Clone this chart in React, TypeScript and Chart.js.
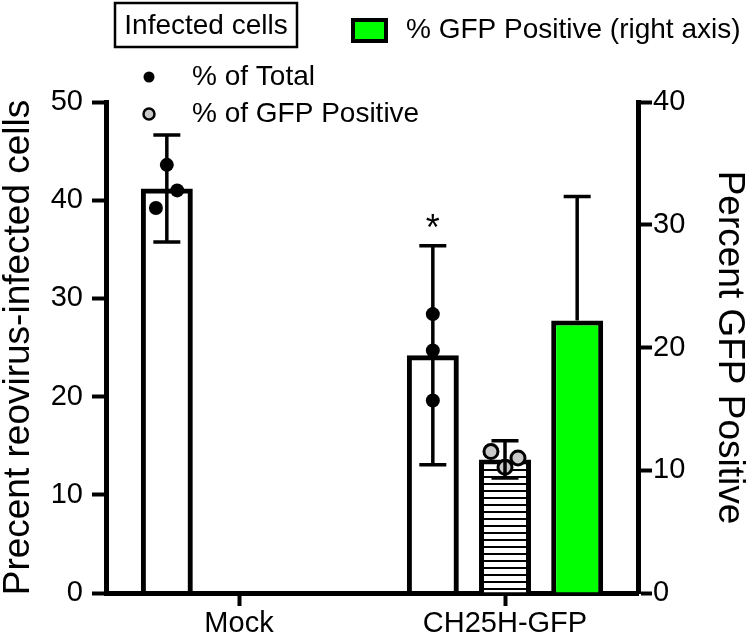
import React, { useEffect, useRef } from "react";
import { Chart, registerables } from "chart.js";
Chart.register(...registerables);

const FONT = "'Liberation Sans', Arial, Helvetica, sans-serif";

// ---- data ----
const categories = ["Mock", "CH25H-GFP"];
const leftTicks = [0, 10, 20, 30, 40, 50];
const rightTicks = [0, 10, 20, 30, 40];

const totalMeans = [41.2, 24.2];
const totalSD = [5.45, 11.15];
const totalPoints = [
  [43.6, 41.0, 39.2],
  [28.4, 24.7, 19.6],
];
const totalJitter = [
  [0, 0.2, -0.21],
  [0, 0, 0],
];

const gfpPosMeans = [null, 13.6];
const gfpPosSD = [null, 1.9];
const gfpPosPoints = [[], [14.4, 12.8, 13.75]];
const gfpPosJitter = [[], [-0.27, 0, 0.25]];

const gfpRightMeans = [null, 22.2];
const gfpRightSD = [null, 10.1];

const significance = [null, "*"];

function makeStripes(): CanvasPattern | string {
  const c = document.createElement("canvas");
  c.width = 8;
  c.height = 7;
  const g = c.getContext("2d");
  if (!g) return "#fff";
  g.fillStyle = "#fff";
  g.fillRect(0, 0, 8, 7);
  g.fillStyle = "#000";
  g.fillRect(0, 0, 8, 2);
  const p = g.createPattern(c, "repeat");
  return p || "#fff";
}

const overlay = {
  id: "overlay",
  afterDatasetsDraw(chart: any) {
    const ctx = chart.ctx as CanvasRenderingContext2D;
    ctx.save();
    const series = [
      { ds: 0, means: totalMeans, sds: totalSD, pts: totalPoints, jit: totalJitter, both: true, fill: "#000", r: 7, stroke: false },
      { ds: 1, means: gfpPosMeans, sds: gfpPosSD, pts: gfpPosPoints, jit: gfpPosJitter, both: true, fill: "#c8c8c8", r: 7, stroke: true },
      { ds: 2, means: gfpRightMeans, sds: gfpRightSD, pts: [[], []], jit: [[], []], both: false, fill: "#000", r: 7, stroke: false },
    ];
    for (const s of series) {
      const meta = chart.getDatasetMeta(s.ds);
      const yScale = chart.scales[meta.yAxisID];
      s.means.forEach((m: number | null, i: number) => {
        if (m == null) return;
        const el = meta.data[i];
        const x = el.x;
        const w = el.width;
        // points
        (s.pts[i] || []).forEach((v: number, k: number) => {
          const px = x + (s.jit[i][k] || 0) * w;
          const py = yScale.getPixelForValue(v);
          ctx.beginPath();
          ctx.arc(px, py, s.r, 0, Math.PI * 2);
          ctx.fillStyle = s.fill;
          ctx.fill();
          if (s.stroke) {
            ctx.lineWidth = 3;
            ctx.strokeStyle = "#000";
            ctx.stroke();
          }
        });
        // error bar
        const sd = s.sds[i] as number;
        const yTop = yScale.getPixelForValue(m + sd);
        const yMid = yScale.getPixelForValue(m);
        const yBot = s.both ? yScale.getPixelForValue(m - sd) : yMid;
        ctx.strokeStyle = "#000";
        ctx.lineWidth = 3.5;
        ctx.beginPath();
        ctx.moveTo(x, yTop);
        ctx.lineTo(x, yBot);
        ctx.stroke();
        const cap = 13.5;
        ctx.beginPath();
        ctx.moveTo(x - cap, yTop);
        ctx.lineTo(x + cap, yTop);
        if (s.both) {
          ctx.moveTo(x - cap, yBot);
          ctx.lineTo(x + cap, yBot);
        }
        ctx.stroke();
        // significance mark
        if (s.ds === 0 && significance[i]) {
          ctx.fillStyle = "#000";
          ctx.font = `36px ${FONT}`;
          ctx.textAlign = "center";
          ctx.textBaseline = "alphabetic";
          ctx.fillText(significance[i] as string, x, yTop - 6);
        }
      });
    }
    ctx.restore();
  },
  afterDraw(chart: any) {
    const ctx = chart.ctx as CanvasRenderingContext2D;
    ctx.save();
    ctx.fillStyle = "#000";
    ctx.strokeStyle = "#000";
    ctx.font = `28px ${FONT}`;
    ctx.textBaseline = "middle";
    // group header box
    ctx.lineWidth = 2.5;
    ctx.strokeRect(115, 3, 182, 44);
    ctx.textAlign = "center";
    ctx.fillText("Infected cells", 206, 26);
    ctx.textAlign = "left";
    // % of Total
    ctx.beginPath();
    ctx.arc(149, 77, 5.5, 0, Math.PI * 2);
    ctx.fill();
    ctx.fillText("% of Total", 192, 77);
    // % of GFP Positive
    ctx.beginPath();
    ctx.arc(149, 114, 5.5, 0, Math.PI * 2);
    ctx.fillStyle = "#c8c8c8";
    ctx.fill();
    ctx.lineWidth = 2.5;
    ctx.stroke();
    ctx.fillStyle = "#000";
    ctx.fillText("% of GFP Positive", 192, 114);
    // green swatch
    ctx.fillStyle = "#00ff00";
    ctx.fillRect(353, 20, 33, 21);
    ctx.lineWidth = 4;
    ctx.strokeRect(353, 20, 33, 21);
    ctx.fillStyle = "#000";
    ctx.fillText("% GFP Positive (right axis)", 406, 30);
    ctx.restore();
  },
};

export default function App() {
  const ref = useRef<HTMLCanvasElement | null>(null);
  useEffect(() => {
    if (!ref.current) return;
    Chart.defaults.color = "#000";
    const stripes = makeStripes();
    const axisCommon = {
      grid: { drawOnChartArea: false, tickLength: 14, tickWidth: 4, color: "#000" },
      border: { width: 5, color: "#000" },
    };
    const chart = new Chart(ref.current, {
      type: "bar",
      data: {
        labels: categories,
        datasets: [
          {
            label: "% of Total",
            data: totalMeans,
            yAxisID: "y",
            backgroundColor: "rgba(255,255,255,0)",
            borderColor: "#000",
            borderWidth: 5,
          },
          {
            label: "% of GFP Positive",
            data: gfpPosMeans,
            yAxisID: "y",
            backgroundColor: stripes as any,
            borderColor: "#000",
            borderWidth: 5,
          },
          {
            label: "% GFP Positive (right axis)",
            data: gfpRightMeans,
            yAxisID: "y2",
            backgroundColor: "#00ff00",
            borderColor: "#000",
            borderWidth: 5,
          },
        ] as any,
      },
      options: {
        animation: false,
        responsive: false,
        layout: { padding: { top: 102, left: 0, right: 0, bottom: 0 } },
        datasets: { bar: { categoryPercentage: 0.814, barPercentage: 0.72 } } as any,
        plugins: { legend: { display: false }, tooltip: { enabled: false } },
        scales: {
          x: {
            type: "category",
            offset: true,
            grid: { offset: false, drawOnChartArea: false, tickLength: 13, tickWidth: 4, color: "#000" },
            border: { width: 5, color: "#000" },
            ticks: { font: { family: FONT, size: 29 }, color: "#000", padding: 1, maxRotation: 0 },
            afterFit(s: any) {
              s.height = 44;
            },
          },
          y: {
            position: "left",
            min: 0,
            max: 50,
            ...axisCommon,
            ticks: { font: { family: FONT, size: 29 }, color: "#000", padding: 9 },
            afterBuildTicks(s: any) {
              s.ticks = leftTicks.map((v) => ({ value: v }));
            },
            title: {
              display: true,
              text: "Precent reovirus-infected cells",
              font: { family: FONT, size: 37, lineHeight: 1 },
              color: "#000",
              padding: { top: 0, bottom: 0 },
            },
            afterFit(s: any) {
              s.width = 106;
            },
          },
          y2: {
            position: "right",
            min: 0,
            max: 40,
            ...axisCommon,
            ticks: { font: { family: FONT, size: 29 }, color: "#000", padding: 1 },
            afterBuildTicks(s: any) {
              s.ticks = rightTicks.map((v) => ({ value: v }));
            },
            title: {
              display: true,
              text: "Percent GFP Positive",
              font: { family: FONT, size: 37, lineHeight: 1 },
              color: "#000",
              padding: { top: 2, bottom: 0 },
            },
            afterFit(s: any) {
              s.width = 112;
            },
          },
        } as any,
      },
      plugins: [overlay],
    });
    return () => chart.destroy();
  }, []);
  return (
    <div style={{ position: "fixed", left: 0, top: 0, width: 750, height: 637, background: "#fff" }}>
      <canvas ref={ref} width={750} height={637} style={{ display: "block" }} />
    </div>
  );
}
